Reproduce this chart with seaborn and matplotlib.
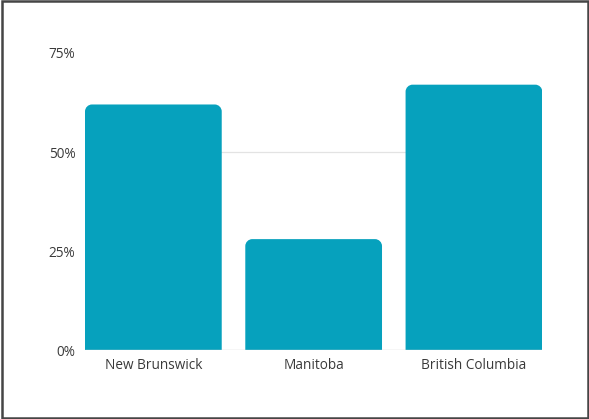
import matplotlib
matplotlib.use("Agg")
import matplotlib.pyplot as plt
from matplotlib.path import Path
from matplotlib.patches import PathPatch, Rectangle
import seaborn as sns
import pandas as pd

categories = ["New Brunswick", "Manitoba", "British Columbia"]
values = [62, 28, 67]
yticks = [0, 25, 50, 75]
ytick_labels = ["0%", "25%", "50%", "75%"]

sns.set_theme(style="white")
plt.rcParams["font.family"] = ["Open Sans", "DejaVu Sans"]

df = pd.DataFrame({"province": categories, "value": values})
W, H, DPI = 5.89, 4.19, 100
fig = plt.figure(figsize=(W, H), dpi=DPI)
ax = fig.add_axes([85 / 589, 1 - 350 / 419, (542.3 - 85) / 589, (350 - 53) / 419])

bar_color = "#06a1bd"
sns.barplot(data=df, x="province", y="value", color=bar_color, width=0.853,
            saturation=1, ax=ax, zorder=3)
ax.set_xlim(-0.4265, 2.4265)
ax.set_ylim(0, 75)

# gridline / baseline
ax.axhline(50, color="#e3e3e3", lw=0.9, zorder=1)
ax.axhline(0, color="#d6d6d6", lw=1.0, zorder=4)

fig.canvas.draw()
bbox = ax.get_window_extent()
px_x = bbox.width / (ax.get_xlim()[1] - ax.get_xlim()[0])
px_y = bbox.height / (ax.get_ylim()[1] - ax.get_ylim()[0])
r_px = 7
rx, ry = r_px / px_x, r_px / px_y
k = 0.5523
for p in list(ax.patches):
    x0 = p.get_x()
    w = p.get_width()
    h = p.get_height()
    x1 = x0 + w
    verts = [
        (x0, 0), (x0, h - ry),
        (x0, h - ry + k * ry), (x0 + rx - k * rx, h), (x0 + rx, h),
        (x1 - rx, h),
        (x1 - rx + k * rx, h), (x1, h - ry + k * ry), (x1, h - ry),
        (x1, 0), (x0, 0),
    ]
    codes = [Path.MOVETO, Path.LINETO,
             Path.CURVE4, Path.CURVE4, Path.CURVE4,
             Path.LINETO,
             Path.CURVE4, Path.CURVE4, Path.CURVE4,
             Path.LINETO, Path.CLOSEPOLY]
    ax.add_patch(PathPatch(Path(verts, codes), facecolor=p.get_facecolor(),
                           edgecolor="none", zorder=3))
    p.set_visible(False)

ax.set_yticks(yticks)
ax.set_yticklabels(ytick_labels)
ax.set_xlabel("")
ax.set_ylabel("")
ax.tick_params(axis="y", length=0, pad=7, labelsize=9.8, labelcolor="#3a3a3a")
ax.tick_params(axis="x", length=0, pad=6, labelsize=9.8, labelcolor="#3a3a3a")
for s in ax.spines.values():
    s.set_visible(False)
ax.grid(False)

fig.patches.append(Rectangle((1.5 / 589, 1.5 / 419), 586 / 589, 416 / 419,
                             transform=fig.transFigure, fill=False,
                             edgecolor="#454545", lw=1.8, zorder=10))

fig.savefig("out.png", dpi=DPI)
